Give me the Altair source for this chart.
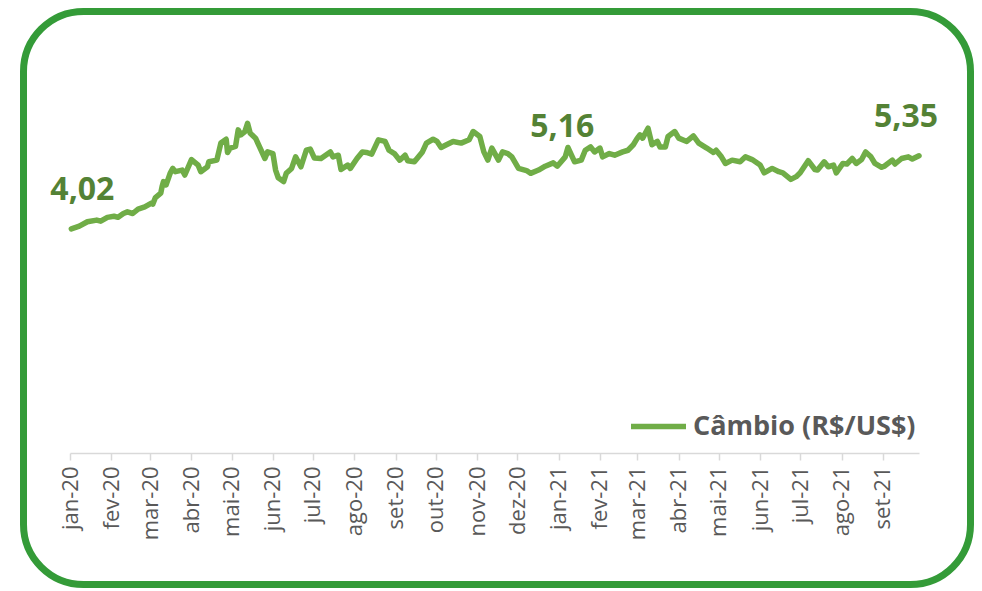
import altair as alt
import pandas as pd

# ---- data ----
dates = [
    "2020-01-02", "2020-01-08", "2020-01-14", "2020-01-21", "2020-01-24", "2020-01-29",
    "2020-02-03", "2020-02-06", "2020-02-10", "2020-02-13", "2020-02-17", "2020-02-21",
    "2020-02-26", "2020-03-02", "2020-03-03", "2020-03-05", "2020-03-09", "2020-03-10",
    "2020-03-11", "2020-03-13", "2020-03-16", "2020-03-18", "2020-03-20", "2020-03-25",
    "2020-03-27", "2020-04-01", "2020-04-06", "2020-04-08", "2020-04-13", "2020-04-14",
    "2020-04-20", "2020-04-23", "2020-04-27", "2020-04-28", "2020-04-30", "2020-05-04",
    "2020-05-06", "2020-05-08", "2020-05-11", "2020-05-13", "2020-05-15", "2020-05-19",
    "2020-05-22", "2020-05-26", "2020-05-28", "2020-06-01", "2020-06-03", "2020-06-05",
    "2020-06-09", "2020-06-11", "2020-06-15", "2020-06-18", "2020-06-22", "2020-06-26",
    "2020-06-29", "2020-07-02", "2020-07-07", "2020-07-14", "2020-07-16", "2020-07-20",
    "2020-07-22", "2020-07-27", "2020-07-29", "2020-08-03", "2020-08-07", "2020-08-10",
    "2020-08-14", "2020-08-19", "2020-08-24", "2020-08-27", "2020-08-31", "2020-09-04",
    "2020-09-08", "2020-09-10", "2020-09-15", "2020-09-21", "2020-09-24", "2020-09-29",
    "2020-10-02", "2020-10-05", "2020-10-09", "2020-10-14", "2020-10-20", "2020-10-26",
    "2020-10-29", "2020-11-03", "2020-11-06", "2020-11-09", "2020-11-12", "2020-11-17",
    "2020-11-20", "2020-11-24", "2020-11-27", "2020-12-02", "2020-12-08", "2020-12-11",
    "2020-12-17", "2020-12-22", "2020-12-28", "2020-12-31", "2021-01-06", "2021-01-08",
    "2021-01-13", "2021-01-18", "2021-01-21", "2021-01-25", "2021-01-28", "2021-02-01",
    "2021-02-03", "2021-02-08", "2021-02-12", "2021-02-18", "2021-02-22", "2021-02-26",
    "2021-03-01", "2021-03-03", "2021-03-05", "2021-03-09", "2021-03-12", "2021-03-16",
    "2021-03-18", "2021-03-22", "2021-03-24", "2021-03-29", "2021-04-01", "2021-04-07",
    "2021-04-12", "2021-04-16", "2021-04-22", "2021-04-27", "2021-04-29", "2021-05-03",
    "2021-05-06", "2021-05-11", "2021-05-17", "2021-05-21", "2021-05-26", "2021-06-01",
    "2021-06-04", "2021-06-10", "2021-06-15", "2021-06-18", "2021-06-24", "2021-06-28",
    "2021-07-01", "2021-07-07", "2021-07-12", "2021-07-14", "2021-07-19", "2021-07-22",
    "2021-07-26", "2021-07-28", "2021-08-02", "2021-08-05", "2021-08-09", "2021-08-12",
    "2021-08-16", "2021-08-19", "2021-08-23", "2021-08-26", "2021-08-31", "2021-09-02",
    "2021-09-08", "2021-09-10", "2021-09-15", "2021-09-20", "2021-09-23", "2021-09-28",
]
cambio = [
    4.02, 4.07, 4.15, 4.18, 4.16, 4.23,
    4.25, 4.23, 4.30, 4.33, 4.30, 4.38,
    4.42, 4.49, 4.47, 4.59, 4.67, 4.79,
    4.88, 4.82, 5.03, 5.12, 5.06, 5.09,
    5.00, 5.28, 5.18, 5.06, 5.15, 5.24,
    5.27, 5.58, 5.65, 5.41, 5.49, 5.52,
    5.82, 5.73, 5.79, 5.94, 5.76, 5.67,
    5.51, 5.30, 5.42, 5.39, 5.09, 4.95,
    4.88, 5.03, 5.12, 5.33, 5.15, 5.45,
    5.47, 5.31, 5.30, 5.42, 5.33, 5.36,
    5.10, 5.18, 5.12, 5.30, 5.42, 5.41,
    5.38, 5.64, 5.61, 5.45, 5.39, 5.27,
    5.36, 5.26, 5.24, 5.42, 5.58, 5.65,
    5.61, 5.50, 5.55, 5.61, 5.58, 5.64,
    5.79, 5.70, 5.42, 5.27, 5.49, 5.27,
    5.42, 5.39, 5.33, 5.12, 5.08, 5.03,
    5.09, 5.16, 5.22, 5.16, 5.33, 5.50,
    5.24, 5.27, 5.45, 5.51, 5.42, 5.49,
    5.33, 5.39, 5.36, 5.42, 5.45, 5.55,
    5.67, 5.73, 5.67, 5.85, 5.55, 5.61,
    5.51, 5.51, 5.70, 5.79, 5.67, 5.61,
    5.71, 5.58, 5.49, 5.41, 5.45, 5.33,
    5.21, 5.27, 5.24, 5.33, 5.28, 5.18,
    5.04, 5.12, 5.06, 5.04, 4.92, 4.97,
    5.04, 5.26, 5.10, 5.09, 5.24, 5.15,
    5.18, 5.04, 5.21, 5.20, 5.30, 5.21,
    5.28, 5.42, 5.33, 5.21, 5.14, 5.16,
    5.27, 5.20, 5.30, 5.33, 5.29, 5.35,
]
series_name = "Câmbio (R$/US$)"
month_abbr = ["jan", "fev", "mar", "abr", "mai", "jun",
              "jul", "ago", "set", "out", "nov", "dez"]
tick_months = [(2020, m) for m in range(1, 13)] + [(2021, m) for m in range(1, 10)]

annot_dates = ["2020-01-02", "2020-12-31", "2021-09-28"]
annot_values = [4.02, 5.16, 5.35]
annot_labels = ["4,02", "5,16", "5,35"]
annot_dx = [11, 5, -13]

# ---- build ----
df = pd.DataFrame({"data": dates, "cambio": cambio, "serie": series_name})
adf = pd.DataFrame({"data": annot_dates, "cambio": annot_values, "rotulo": annot_labels})

FONT = "Open Sans"
LINE_GREEN = "#70AD47"
TEXT_GREEN = "#548235"
GRAY = "#595959"

label_expr = (
    "[" + ",".join("'%s'" % m for m in month_abbr) + "][utcmonth(datum.value)]"
    " + '-' + utcFormat(datum.value, '%y')"
)

x_enc = alt.X(
    "data:T",
    title=None,
    scale=alt.Scale(
        type="utc",
        domain=[alt.DateTime(year=2020, month=1, date=1, utc=True),
                alt.DateTime(year=2021, month=9, date=28, utc=True)],
        nice=False,
    ),
    axis=alt.Axis(
        values=[alt.DateTime(year=y, month=m, date=1, utc=True) for y, m in tick_months],
        labelExpr=label_expr,
        labelAngle=270,
        labelFont=FONT,
        labelFontSize=22,
        labelColor=GRAY,
        labelPadding=6,
        labelOverlap=False,
        labelFlush=False,
        labelBound=False,
        domainColor="#D9D9D9",
        domainWidth=1.5,
        tickColor="#D9D9D9",
        tickWidth=1.5,
        tickSize=7,
        grid=False,
        offset=3,
    ),
)
y_enc = alt.Y("cambio:Q", scale=alt.Scale(domain=[0, 7], nice=False), axis=None)

line = alt.Chart(df).mark_line(strokeWidth=5.5, strokeJoin="round", strokeCap="round").encode(
    x=x_enc,
    y=y_enc,
    color=alt.Color(
        "serie:N",
        scale=alt.Scale(range=[LINE_GREEN]),
        legend=alt.Legend(
            title=None,
            orient="none",
            legendX=558,
            legendY=331,
            symbolType="stroke",
            symbolStrokeWidth=5.5,
            symbolSize=3025,
            labelFont=FONT,
            labelFontSize=27,
            labelFontWeight="bold",
            labelColor=GRAY,
            labelOffset=4,
            labelLimit=0,
            padding=0,
        ),
    ),
)

layers = [line]
for d, v, lab, dx in zip(annot_dates, annot_values, annot_labels, annot_dx):
    one = adf[adf["rotulo"] == lab]
    layers.append(
        alt.Chart(one).mark_text(
            font=FONT, fontSize=32, fontWeight="bold", color=TEXT_GREEN,
            align="center", baseline="alphabetic", dx=dx, dy=-29,
        ).encode(x="data:T", y="cambio:Q", text="rotulo:N")
    )

frame = alt.Chart(alt.Data(values=[{"k": 1}])).mark_rect(
    fill="transparent", stroke="#349B38", strokeWidth=7, cornerRadius=60,
).encode(
    x=alt.value(-46.5), x2=alt.value(900.5), y=alt.value(-53.5), y2=alt.value(519.5)
)
layers.append(frame)

chart = alt.layer(*layers).properties(
    width=849,
    height=385,
    autosize=alt.AutoSizeParams(type="none"),
    padding={"left": 62, "top": 57, "right": 55, "bottom": 138},
).configure_view(strokeWidth=0)

chart.save("out.html", embed_options={"renderer": "svg", "actions": False})
